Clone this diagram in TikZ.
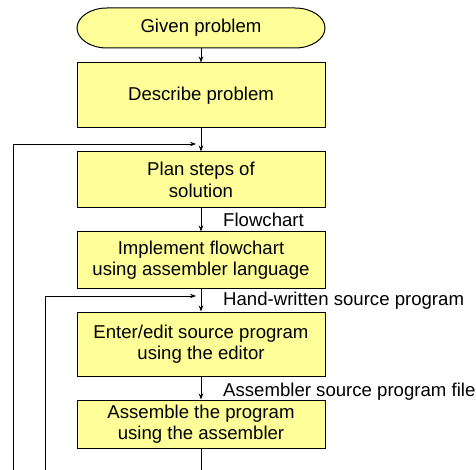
\documentclass[tikz,border=0pt]{standalone}
\usepackage{fontspec}
\setmainfont{Liberation Sans}
\usetikzlibrary{arrows.meta}
\definecolor{boxfill}{HTML}{FFFF99}
\begin{document}
\begin{tikzpicture}[x=1pt,y=-1pt,
  every node/.style={font=\fontsize{18.6}{21.6}\selectfont},
  procbox/.style={draw=black,line width=1pt,fill=boxfill,minimum width=248pt,inner sep=0pt,align=center},
  termbox/.style={minimum width=248pt,minimum height=40pt,inner sep=0pt},
  termshape/.style={draw=black,line width=1pt,fill=boxfill},
  conn/.style={line width=0.9pt,-{Stealth[length=6pt,width=4.5pt]}},
  lbl/.style={anchor=west,inner sep=0pt}]
\clip (0,0) rectangle (476,470);
\path[termshape] (107,8) -- (295,8)
  arc[start angle=90, end angle=-90, x radius=30pt, y radius=20pt]
  -- (107,48)
  arc[start angle=270, end angle=90, x radius=30pt, y radius=20pt] -- cycle;
\node[termbox] (given) at (201,28) {Given problem};
\node[procbox,minimum height=65pt] (desc) at (201,95.5) {Describe problem};
\node[procbox,minimum height=56pt] (plan) at (201,180) {Plan steps of\\solution};
\node[procbox,minimum height=56pt] (impl) at (201,260) {Implement flowchart\\using assembler language};
\node[procbox,minimum height=64pt] (enter) at (201,344) {Enter/edit source program\\using the editor};
\node[procbox,minimum height=48pt] (asm) at (201,424) {Assemble the program\\using the assembler};
\coordinate (bot) at (201,478);
\coordinate (loopA) at (196,144);
\coordinate (loopAb) at (13,480);
\coordinate (loopB) at (196,296);
\coordinate (loopBb) at (45,480);
\draw[conn] (given) -- (desc);
\draw[conn] (desc) -- (plan);
\draw[conn] (plan) -- (impl);
\draw[conn] (impl) -- (enter);
\draw[conn] (enter) -- (asm);
\draw[conn] (asm) -- (bot);
\draw[conn] (loopAb) |- (loopA);
\draw[conn] (loopBb) |- (loopB);
\node[lbl] (l1) at (223,220) {Flowchart};
\node[lbl] (l2) at (223,300.5) {Hand-written source program};
\node[lbl] (l3) at (223,391.5) {Assembler source program file};
\end{tikzpicture}
\end{document}
